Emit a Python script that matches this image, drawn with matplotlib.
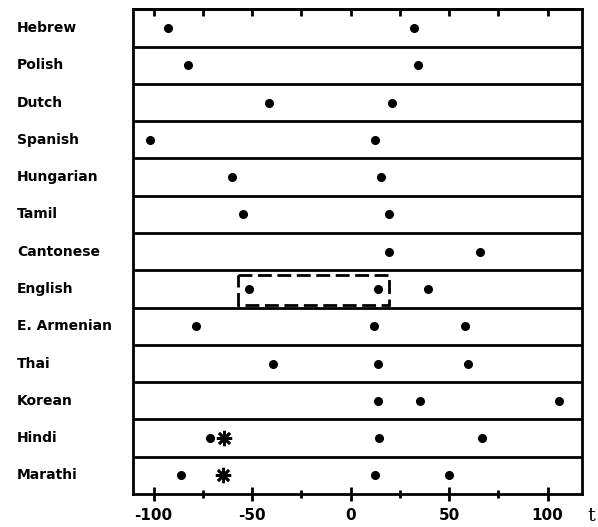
import numpy as np
import matplotlib
matplotlib.use('Agg')
import matplotlib.pyplot as plt
from matplotlib.patches import Rectangle

languages = ['Hebrew', 'Polish', 'Dutch', 'Spanish', 'Hungarian', 'Tamil',
             'Cantonese', 'English', 'E. Armenian', 'Thai', 'Korean',
             'Hindi', 'Marathi']
dots = [[-92.5, 32], [-82.6, 34.3], [-41.4, 21], [-101.6, 12.3],
        [-60, 15.5], [-54.7, 19.5], [19.5, 65.9], [-51.4, 13.8, 39.2],
        [-78.4, 11.9, 58.1], [-39.5, 13.8, 59.6], [13.8, 35.4, 106],
        [-71.3, 14.3, 66.8], [-86, 12.4, 50]]
star_langs = ['Hindi', 'Marathi']
star_vals = [-64.2, -64.9]
box_lang = 'English'
box_range = [-57, 19.7]

fig = plt.figure(figsize=(5.98, 5.27), dpi=100)
ax = fig.add_axes([0.223, 0.0626, 0.75, 0.9197])

for i, vals in enumerate(dots):
    ax.plot(vals, [i] * len(vals), 'o', c='black', ms=5.5)

for lang, v in zip(star_langs, star_vals):
    ax.plot([v], [languages.index(lang)], marker=(8, 2, 0), c='black',
            ms=11, mew=1.9, ls='none')

yb = languages.index(box_lang)
ax.add_patch(Rectangle((box_range[0], yb - 0.38), box_range[1] - box_range[0], 0.81,
                       fill=False, ec='black', lw=2, ls=(0, (5, 2))))

for k in range(1, len(languages)):
    ax.axhline(k - 0.5, c='black', lw=2)

for i, lang in enumerate(languages):
    ax.text(-0.259, i, lang, transform=ax.get_yaxis_transform(),
            ha='left', va='center', fontsize=10, fontweight='bold')

ax.set_xlim(-110.3, 117.4)
ax.set_ylim(len(languages) - 0.5, -0.5)
ax.set_yticks([])
ax.set_xticks([-100, -50, 0, 50, 100])
ax.set_xticks([-75, -25, 25, 75], minor=True)
ax.set_xticklabels(['-100', '-50', '0', '50', '100'], fontsize=11, fontweight='bold')
ax.tick_params(axis='x', which='major', direction='inout', length=10, width=2, pad=5)
ax.tick_params(axis='x', which='minor', direction='inout', length=6, width=2)
for s in ax.spines.values():
    s.set_linewidth(2)

# top ticks
sec = ax.secondary_xaxis('top')
sec.set_xticks([-100, -75, -50, -25, 0, 25, 50, 75, 100])
sec.set_xticklabels([])
sec.tick_params(direction='in', length=5, width=2)
sec.spines['top'].set_linewidth(2)

fig.text(0.983, 0.012, 't', fontsize=14, family='DejaVu Serif')

fig.savefig('out.png')
